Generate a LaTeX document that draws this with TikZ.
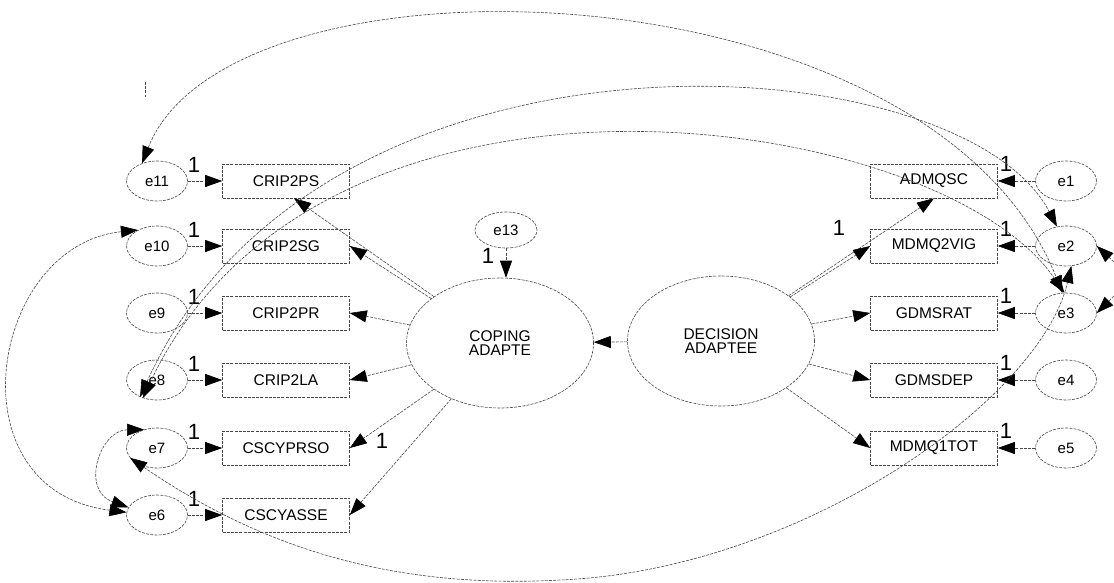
\documentclass[tikz,border=0pt]{standalone}
\usepackage{fontspec}
\setmainfont{Liberation Sans}
\usetikzlibrary{arrows.meta,shapes.geometric}

\begin{document}
\begin{tikzpicture}[x=1pt,y=-1pt,
  ln/.style={draw=black!72, line width=0.6pt, dash pattern=on 3pt off 1.2pt},
  tip/.style={-{Triangle[length=17pt,width=12pt,color=black]}},
  both/.style={{Triangle[length=17pt,width=12pt,color=black]}-{Triangle[length=17pt,width=12pt,color=black]}},
  obs/.style={ln, rectangle, minimum width=127pt, minimum height=34pt, inner sep=0pt,
              font=\fontsize{15.5}{16}\selectfont},
  err/.style={ln, ellipse, minimum width=61pt, minimum height=40pt, inner sep=0pt,
              font=\fontsize{15}{16}\selectfont},
  lat/.style={ln, ellipse, minimum width=187pt, minimum height=130pt, inner sep=0pt,
              align=center, font=\fontsize{15.5}{14}\selectfont},
  one/.style={inner sep=0pt, font=\fontsize{22}{22}\selectfont}
]
\useasboundingbox (0,0) rectangle (1114,582);

% latent variables
\node[lat] (cop) at (500,343) {COPING\\ADAPTE};
\node[lat] (dec) at (721,341) {DECISION\\ADAPTEE};
\node[err, minimum width=62pt, minimum height=36pt] (e13) at (506,230) {e13};

% coping indicators and their error terms
\foreach \n/\lab/\y in {11/CRIP2PS/181, 10/CRIP2SG/246, 9/CRIP2PR/313,
                        8/CRIP2LA/380, 7/CSCYPRSO/448, 6/CSCYASSE/515}{
  \node[obs] (b\n) at (286,\y) {\lab};
  \node[err] (e\n) at (157,\y) {e\n};
  \draw[ln,tip] (e\n) -- (b\n);
  \node[one] (l\n) at (194,\y-16) {1};
}

% decision indicators and their error terms
\foreach \n/\lab/\y in {1/ADMQSC/181, 2/MDMQ2VIG/246, 3/GDMSRAT/313,
                        4/GDMSDEP/380, 5/MDMQ1TOT/448}{
  \node[obs] (b\n) at (934,\y) {\lab};
  \node[err] (e\n) at (1066,\y) {e\n};
  \draw[ln,tip] (e\n) -- (b\n);
  \node[one] (l\n) at (1006,\y-17) {1};
}

% structural paths
\draw[ln,tip] (e13) -- (e13 |- cop.north);
\node[one] (l13) at (488,256) {1};
\draw[ln,tip] (dec) -- (cop);

% loadings of COPING ADAPTE
\draw[ln,tip] (cop) -- ([xshift=8pt]b11.south);
\foreach \n in {10,9,8,7,6}{ \draw[ln,tip] (cop) -- (b\n.east); }
\node[one] (lc) at (382,441) {1};

% loadings of DECISION ADAPTEE
\draw[ln,tip] (dec) -- (b1.south);
\foreach \n in {2,3,4,5}{ \draw[ln,tip] (dec) -- (b\n.west); }
\node[one] (ld) at (839,228) {1};

% error covariances
\draw[ln,both] (e11.130) .. controls (230,-60) and (930,-40) .. (e3.100);
\draw[ln,both] (e8.225) .. controls (320,0) and (960,40) .. (e2.115);
\draw[ln,both] (e8.232) .. controls (320,20) and (940,110) .. (e3.95);
\draw[ln,both] (e10.140) .. controls (-10,245) and (-50,490) .. (e6.175);
\draw[ln,both] (e7.125) .. controls (100,430) and (80,490) .. (e6.165);
\coordinate (bot) at (560,580);
\draw[ln,both] (e7.200) .. controls (250,540) and (380,590) .. (bot)
      .. controls (800,570) and (1040,400) .. (e2.285);

% paths leaving the frame on the right
\coordinate (r1) at (1114,262);
\coordinate (r2) at (1114,296);
\draw[ln,tip] (r1) -- (e2.east);
\draw[ln,tip] (r2) -- (e3.east);

% small tick near the upper left
\coordinate (t1) at (145,82);
\coordinate (t2) at (145,97);
\draw[ln] (t1) -- (t2);
\end{tikzpicture}
\end{document}
